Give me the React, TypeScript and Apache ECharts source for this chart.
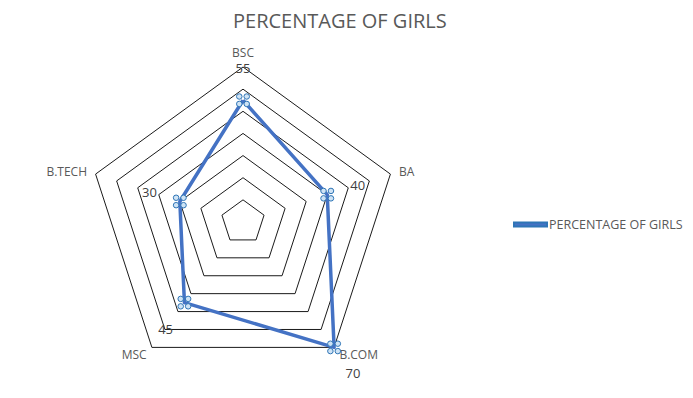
import React, { useEffect, useRef } from "react";
import * as echarts from "echarts";

const categories = ["BSC", "BA", "B.COM", "MSC", "B.TECH"];
const values = [55, 40, 70, 45, 30];
const seriesName = "PERCENTAGE OF GIRLS";
const titleText = "PERCENTAGE OF GIRLS";
const axisMax = 70;
const splitCount = 7;

const FONT = "'Open Sans', 'Liberation Sans', sans-serif";

export default function App() {
  const ref = useRef<HTMLDivElement>(null);
  useEffect(() => {
    document.body.style.margin = "0";
    const chart = echarts.init(ref.current!, undefined, { renderer: "svg" });
    // ECharts places radar indicators counter-clockwise; reorder to keep Excel's clockwise layout
    const order = [0, ...categories.map((_, i) => i).slice(1).reverse()];
    const cats = order.map((i) => categories[i]);
    const vals = order.map((i) => values[i]);
    const cx = 243;
    const cy = 222;
    const R = 155;
    const labelGap = 32;
    const labels = vals.map((v, i) => {
      const a = Math.PI / 2 + (i * 2 * Math.PI) / cats.length;
      const r = (v / axisMax) * R + labelGap;
      return {
        type: "text",
        x: cx + r * Math.cos(a),
        y: cy - r * Math.sin(a),
        style: {
          text: String(v),
          fill: "#404040",
          font: `13px ${FONT}`,
          textAlign: "center",
          textVerticalAlign: "middle",
        },
        z: 100,
      };
    });
    const c = 3;
    const sym =
      "path://" +
      [
        [0, 0],
        [8, 0],
        [0, 8],
        [8, 8],
      ]
        .map(
          ([x, y]) =>
            `M${x - c},${y}a${c},${c} 0 1,0 ${2 * c},0a${c},${c} 0 1,0 ${-2 * c},0Z`
        )
        .join("");
    chart.setOption({
      animation: false,
      title: {
        text: titleText,
        left: 228,
        top: 5,
        textStyle: {
          color: "#595959",
          fontSize: 20,
          fontWeight: "normal",
          fontFamily: FONT,
        },
      },
      legend: {
        orient: "vertical",
        left: 508,
        top: 213,
        icon: "rect",
        itemWidth: 33,
        itemHeight: 4,
        textStyle: { color: "#595959", fontSize: 12.5, fontFamily: FONT, padding: [0, 0, 0, -3] },
        data: [{ name: seriesName, itemStyle: { color: "#4472C4" } }],
      },
      radar: {
        center: [cx, cy],
        radius: R,
        startAngle: 90,
        splitNumber: splitCount,
        shape: "polygon",
        indicator: cats.map((n) => ({ name: n, min: 0, max: axisMax })),
        axisName: { color: "#595959", fontSize: 12, fontFamily: FONT },
        nameGap: 9,
        axisLine: { show: false },
        axisTick: { show: false },
        axisLabel: { show: false },
        splitArea: { show: false },
        splitLine: { lineStyle: { color: "#1a1a1a", width: 1 } },
      },
      series: [
        {
          type: "radar",
          name: seriesName,
          symbol: sym,
          symbolSize: 13,
          itemStyle: { color: "#cfe3f5", borderColor: "#2e75b6", borderWidth: 1 },
          lineStyle: { color: "#4472C4", width: 3.5 },
          data: [{ name: seriesName, value: vals }],
          z: 5,
        },
      ],
      graphic: labels,
    });
    return () => chart.dispose();
  }, []);
  return (
    <div
      ref={ref}
      style={{ position: "absolute", left: 0, top: 0, width: 693, height: 398 }}
    />
  );
}
